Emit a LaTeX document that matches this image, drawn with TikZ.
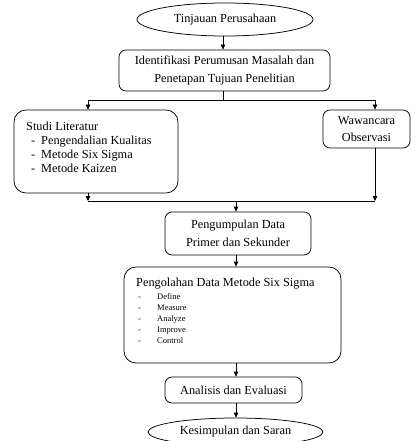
\documentclass[tikz,border=0pt]{standalone}
\usepackage{fontspec}
\setmainfont{Liberation Serif}
\usetikzlibrary{shapes.geometric,arrows.meta}
\begin{document}
\begin{tikzpicture}[x=1pt,y=-1pt,
  box/.style={draw, rounded corners=7pt, line width=0.75pt, inner sep=0pt},
  bigbox/.style={box, rounded corners=12pt},
  oval/.style={draw, ellipse, line width=0.75pt, inner sep=0pt},
  conn/.style={line width=0.75pt, -{Triangle[length=5pt,width=4.5pt]}},
  link/.style={line width=0.75pt},
  txt/.style={font=\fontsize{12.3}{17.5}\selectfont},
  small/.style={font=\fontsize{8.5}{11}\selectfont, inner sep=0pt}]
\useasboundingbox (0,0) rectangle (416,441);
\clip (0,0) rectangle (416,441);

% nodes
\node[oval, txt, minimum width=176pt, minimum height=33pt] (e1) at (225,19.5) {Tinjauan Perusahaan};
\node[box, txt, align=center, minimum width=211pt, minimum height=41pt] (b2) at (224.5,70.5)
  {Identifikasi Perumusan Masalah dan\\Penetapan Tujuan Penelitian};
\node[bigbox, minimum width=164pt, minimum height=83pt] (studi) at (96,151.5) {};
\node[box, txt, align=center, minimum width=87pt, minimum height=38pt] (waw) at (366.5,129)
  {Wawancara\\Observasi};
\node[box, txt, align=center, minimum width=146pt, minimum height=43pt] (b3) at (238,233.5)
  {Pengumpulan Data\\Primer dan Sekunder};
\node[bigbox, minimum width=217pt, minimum height=96pt] (b4) at (232.5,315) {};
\node[box, txt, minimum width=137pt, minimum height=26pt] (b5) at (233.5,390) {Analisis dan Evaluasi};
\node[oval, txt, minimum width=175pt, minimum height=28pt] (e2) at (235.5,432) {Kesimpulan dan Saran};

% texts of Studi Literatur
\node[txt, inner sep=0pt, anchor=base west] (st0) at (26,130) {Studi Literatur};
\node[txt, inner sep=0pt, anchor=base west] (sd1) at (31,144) {-};
\node[txt, inner sep=0pt, anchor=base west] (st1) at (41,144) {Pengendalian Kualitas};
\node[txt, inner sep=0pt, anchor=base west] (sd2) at (31,158) {-};
\node[txt, inner sep=0pt, anchor=base west] (st2) at (41,158) {Metode Six Sigma};
\node[txt, inner sep=0pt, anchor=base west] (sd3) at (31,172) {-};
\node[txt, inner sep=0pt, anchor=base west] (st3) at (41,172) {Metode Kaizen};

% texts of Pengolahan Data
\node[txt, inner sep=0pt, anchor=base west] (p0) at (136,286) {Pengolahan Data Metode Six Sigma};
\foreach \t [count=\i] in {Define,Measure,Analyze,Improve,Control}{
  \node[small, anchor=base west] (pd\i) at (138,299+11*\i-11) {-};
  \node[small, anchor=base west] (pt\i) at (157,299+11*\i-11) {\t};
}

% junction coordinates
\coordinate (j1) at (223,100);
\coordinate (jl) at (88,100);
\coordinate (jr) at (375,100);
\coordinate (k1) at (88,201);
\coordinate (k2) at (375,201);
\coordinate (k0) at (236,201);

% connectors
\draw[conn] (e1.south -| j1) -- (b2.north -| j1);
\draw[link] (b2.south -| j1) -- (j1);
\draw[link] (jl) -- (jr);
\draw[conn] (jl) -- (studi.north -| jl);
\draw[conn] (jr) -- (waw.north -| jr);
\draw[conn] (studi.south -| k1) -- (k1);
\draw[conn] (waw.south -| k2) -- (k2);
\draw[link] (k1) -- (k2);
\draw[conn] (k0) -- (b3.north -| k0);
\draw[conn] (b3.south -| k0) -- (b4.north -| k0);
\draw[conn] (b4.south -| k0) -- (b5.north -| k0);
\draw[conn] (b5.south -| k0) -- (e2.north -| k0);
\end{tikzpicture}
\end{document}
